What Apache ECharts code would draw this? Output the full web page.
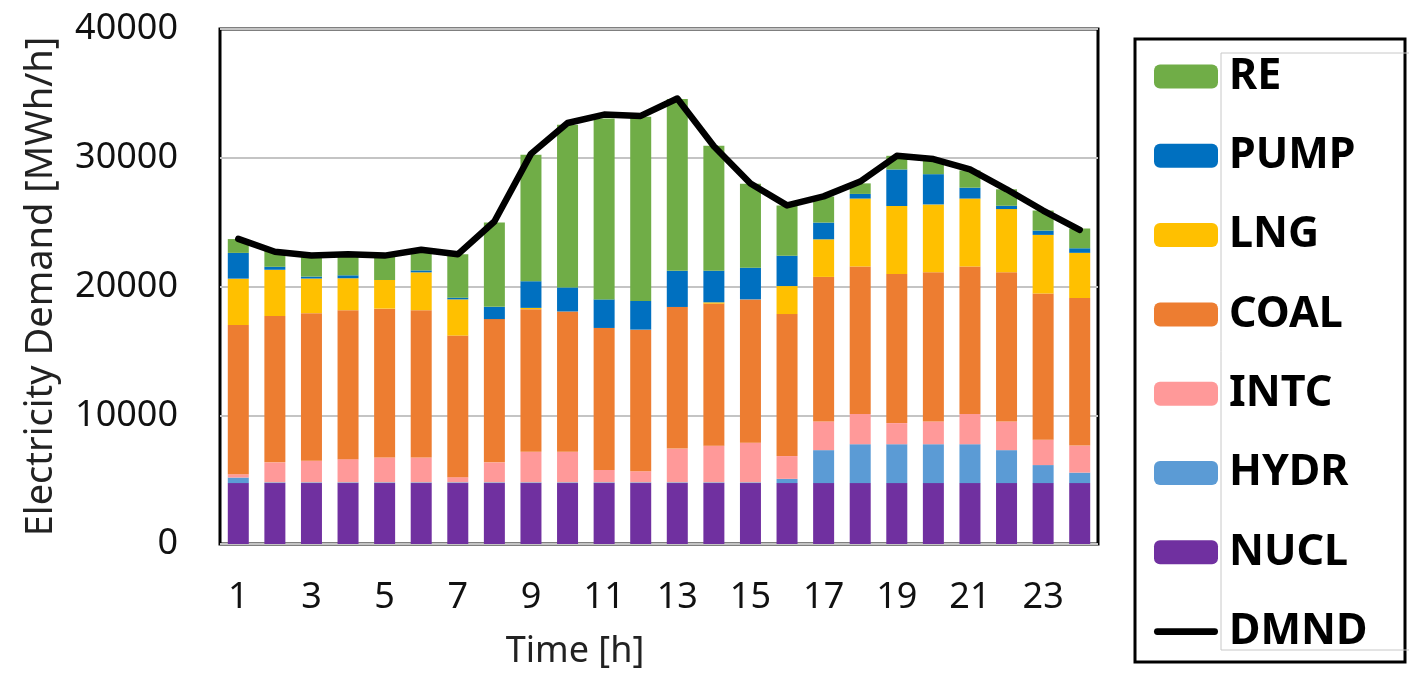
<!DOCTYPE html>
<html>
<head>
<meta charset="utf-8">
<script src="https://cdn.jsdelivr.net/npm/echarts@6/dist/echarts.min.js"></script>
<style>
  html, body { margin: 0; padding: 0; background: #fff; }
  #chart { width: 1409px; height: 675px; }
</style>
</head>
<body>
<div id="chart"></div>
<script>
const hours = ['1','2','3','4','5','6','7','8','9','10','11','12','13','14','15','16','17','18','19','20','21','22','23','24'];
const NUCL = [4730,4730,4730,4730,4730,4730,4730,4730,4730,4730,4730,4730,4730,4730,4730,4730,4730,4730,4730,4730,4730,4730,4730,4730];
const HYDR = [430,60,60,60,60,60,60,60,60,60,60,60,60,60,60,330,2560,3020,3020,3020,3020,2560,1400,815];
const INTC = [260,1550,1680,1800,1930,1930,400,1550,2370,2370,960,860,2620,2850,3080,1770,2225,2350,1640,1765,2350,2225,1970,2100];
const COAL = [11590,11360,11460,11570,11560,11440,11000,11130,11080,10900,11030,11000,11000,11030,11130,11030,11230,11460,11590,11590,11460,11590,11360,11460];
const LNG  = [3600,3600,2690,2480,2225,2940,2810,0,100,0,0,0,0,100,0,2175,2920,5270,5270,5270,5270,4910,4550,3510];
const PUMP = [2000,230,150,230,0,150,130,950,2070,1870,2220,2230,2810,2455,2460,2355,1300,360,2840,2350,845,255,330,355];
const RE   = [1075,1230,1610,1640,1870,1640,3380,6550,9820,12640,14050,14300,13350,9700,6520,3910,2030,820,1060,1170,1340,1280,1560,1535];
const DMND = [23700,22700,22400,22500,22400,22850,22500,25050,30300,32700,33350,33250,34600,30900,28000,26300,27000,28150,30150,29900,29100,27550,25900,24400];
const yTicks = [0,10000,20000,30000,40000];

const colors = {
  NUCL: '#7030A0', HYDR: '#5B9BD5', INTC: '#FF9999', COAL: '#ED7D31',
  LNG: '#FFC000', PUMP: '#0070C0', RE: '#70AD47', DMND: '#000000'
};
const stackSeries = [['NUCL',NUCL],['HYDR',HYDR],['INTC',INTC],['COAL',COAL],['LNG',LNG],['PUMP',PUMP],['RE',RE]];

const series = stackSeries.map(([name, data]) => ({
  name, type: 'bar', stack: 'total', data, barWidth: 21,
  itemStyle: { color: colors[name] },
  emphasis: { disabled: true }
}));
series.push({
  name: 'DMND', type: 'line', data: DMND, symbol: 'none', z: 10,
  lineStyle: { color: '#000', width: 6.5, cap: 'round', join: 'round' },
  itemStyle: { color: '#000' },
  emphasis: { disabled: true }
});

const legendNames = ['RE','PUMP','LNG','COAL','INTC','HYDR','NUCL'];
const legendData = legendNames.map(n => ({ name: n }));
legendData.push({
  name: 'DMND',
  icon: 'path://M3.5,0 L63.5,0 A3.5,3.5 0 0 1 63.5,7 L3.5,7 A3.5,3.5 0 0 1 3.5,0 Z',
  itemStyle: { color: '#000', borderWidth: 0 }
});

const chart = echarts.init(document.getElementById('chart'), null, { renderer: 'canvas' });
chart.setOption({
  animation: false,
  backgroundColor: '#fff',
  grid: { left: 220, right: 311, top: 29, bottom: 126, show: true, borderColor: '#000', borderWidth: 3, backgroundColor: 'transparent' },
  xAxis: {
    type: 'category', data: hours,
    name: 'Time [h]', nameLocation: 'middle', nameGap: 90,
    nameTextStyle: { fontFamily: 'Noto Sans', fontSize: 36, color: '#222', padding: [0, 168, 0, 0] },
    axisLine: { show: false }, axisTick: { show: false },
    axisLabel: { interval: 1, margin: 36, fontFamily: 'Noto Sans', fontSize: 36, color: '#111' }
  },
  yAxis: {
    type: 'value', min: yTicks[0], max: yTicks[yTicks.length - 1], interval: 10000,
    name: 'Electricity Demand [MWh/h]', nameLocation: 'middle', nameGap: 160,
    nameTextStyle: { fontFamily: 'Noto Sans', fontSize: 38, color: '#222' },
    axisLine: { show: false }, axisTick: { show: false },
    axisLabel: { margin: 42, fontFamily: 'Noto Sans', fontSize: 36, color: '#111', formatter: v => String(v) },
    splitLine: { show: true, lineStyle: { color: '#c4c4c4', width: 2 } }
  },
  legend: {
    orient: 'vertical', left: 1154, top: 55, padding: 0,
    itemWidth: 64, itemHeight: 24, itemGap: 36.3,
    data: legendData,
    textStyle: { fontFamily: 'Noto Sans', fontWeight: 'bold', fontSize: 43, lineHeight: 42, color: '#000', padding: [0, 0, 0, 6] },
    selectedMode: false
  },
  graphic: [
    { type: 'rect', shape: { x: 1135, y: 39, width: 270, height: 623 }, style: { fill: 'none', stroke: '#000', lineWidth: 3 }, z: 100 },
    { type: 'rect', shape: { x: 1221, y: 53, width: 200, height: 597 }, style: { fill: 'none', stroke: '#c8c8c8', lineWidth: 1 }, z: 100 }
  ],
  series
});
</script>
</body>
</html>
